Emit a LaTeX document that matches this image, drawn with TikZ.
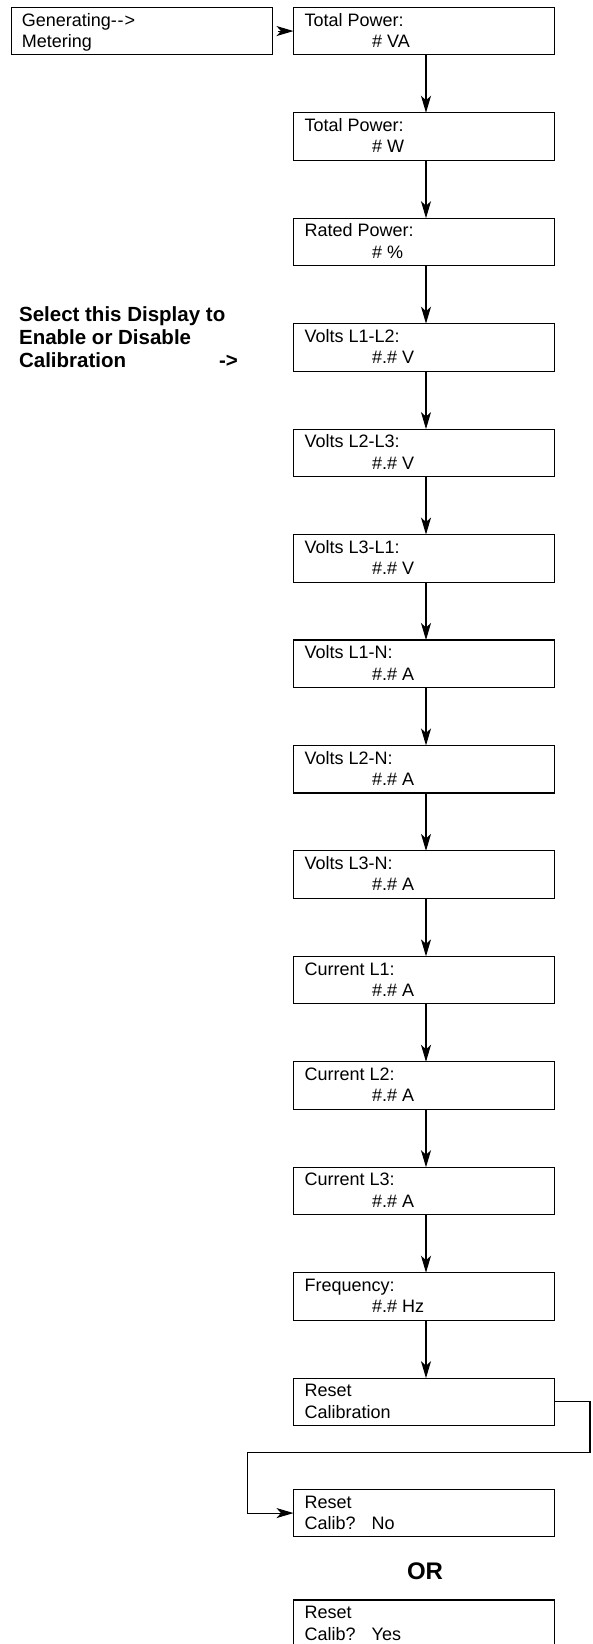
\documentclass[tikz,border=0pt]{standalone}
\usepackage{fontspec}
\setmainfont{Liberation Sans}
\usetikzlibrary{arrows.meta}
\tikzset{
  disp/.style={draw, line width=1.1pt, minimum width=260.8pt, minimum height=47.5pt,
    inner sep=0pt, outer sep=0pt, anchor=north west},
  txt/.style={inner sep=0pt, anchor=base west, font=\fontsize{18}{21}\selectfont},
  note/.style={inner sep=0pt, anchor=base west, font=\fontsize{20.5}{23}\selectfont\bfseries},
  arr/.style={line width=1.1pt, -{Stealth[length=17pt,width=10pt,inset=4.5pt]}},
}
\newcommand\dispbox[5]{%
  \node[disp] (#1) at (#2) {};
  \node[txt] (#1a) at ([xshift=11pt,yshift=-18.7pt]#1.north west) {#3};
  \node[txt] (#1b) at ([xshift=#4pt,yshift=-40pt]#1.north west) {#5};
}
\begin{document}
\begin{tikzpicture}[x=1pt,y=-1pt]
\useasboundingbox (0,0) rectangle (592,1644);
\clip (0,0) rectangle (592,1644);

% entry box
\node[disp, minimum width=261pt] (gen) at (11.7,7.3) {};
\node[txt] (gena) at ([xshift=10pt,yshift=-18.7pt]gen.north west) {Generating-{}\kern0.8pt-{}\kern0.8pt>};
\node[txt] (genb) at ([xshift=10pt,yshift=-40.5pt]gen.north west) {Metering};

\dispbox{b0}{293.5,7.3}{Total Power:}{78.5}{\# VA}
\dispbox{b1}{293.5,112.75}{Total Power:}{78.5}{\# W}
\dispbox{b2}{293.5,218.2}{Rated Power:}{78.5}{\# \%}
\dispbox{b3}{293.5,323.65}{Volts L1-L2:}{78.5}{\#.\# V}
\dispbox{b4}{293.5,429.1}{Volts L2-L3:}{78.5}{\#.\# V}
\dispbox{b5}{293.5,534.55}{Volts L3-L1:}{78.5}{\#.\# V}
\dispbox{b6}{293.5,640.0}{Volts L1-N:}{78.5}{\#.\# A}
\dispbox{b7}{293.5,745.45}{Volts L2-N:}{78.5}{\#.\# A}
\dispbox{b8}{293.5,850.9}{Volts L3-N:}{78.5}{\#.\# A}
\dispbox{b9}{293.5,956.35}{Current L1:}{78.5}{\#.\# A}
\dispbox{b10}{293.5,1061.8}{Current L2:}{78.5}{\#.\# A}
\dispbox{b11}{293.5,1167.25}{Current L3:}{78.5}{\#.\# A}
\dispbox{b12}{293.5,1272.7}{Frequency:}{78.5}{\#.\# Hz}
\dispbox{b13}{293.5,1378.15}{Reset}{11}{Calibration}
\dispbox{rno}{293.5,1489.3}{Reset}{11}{\makebox[67pt][l]{Calib?}No}
\dispbox{ryes}{293.5,1600}{Reset}{11}{\makebox[67pt][l]{Calib?}Yes}

% side note
\node[note] (sel1) at (18.9,321) {Select this Display to};
\node[note] (sel2) at (18.9,344) {Enable or Disable};
\node[note] (sel3) at (18.9,367) {\makebox[200pt][l]{Calibration}->};

\node[inner sep=0pt, anchor=base, font=\fontsize{24}{28}\selectfont\bfseries] (or) at (425,1579) {OR};

% connectors
\draw[arr] ([xshift=5.3pt]gen.east) -- (b0.west);
\foreach \a/\b in {b0/b1,b1/b2,b2/b3,b3/b4,b4/b5,b5/b6,b6/b7,b7/b8,b8/b9,b9/b10,b10/b11,b11/b12,b12/b13}
  \draw[arr] ([xshift=2.1pt]\a.south) -- ([xshift=2.1pt]\b.north);

\coordinate (c1) at (590,1452.3);
\coordinate (c2) at (247.5,1452.3);
\draw[arr] (b13.east) -| (c1) -- (c2) |- (rno.west);
\end{tikzpicture}
\end{document}
